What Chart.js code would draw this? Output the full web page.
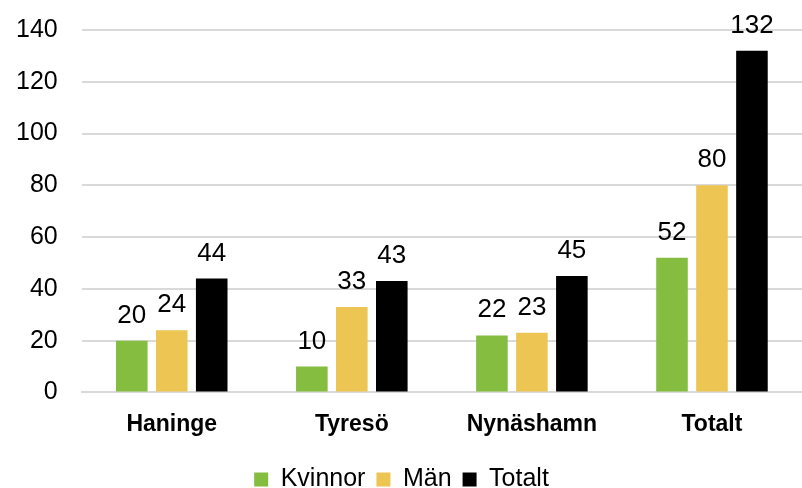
<!DOCTYPE html>
<html>
<head>
<meta charset="utf-8">
<script src="https://cdn.jsdelivr.net/npm/chart.js@4"></script>
<style>
  html, body { margin: 0; padding: 0; background: #fff; }
  #wrap { width: 802px; height: 488px; }
</style>
</head>
<body>
<div id="wrap"><canvas id="barChart"></canvas></div>
<script>
const categories = ['Haninge', 'Tyresö', 'Nynäshamn', 'Totalt'];
const kvinnor = [20, 10, 22, 52];
const man = [24, 33, 23, 80];
const totalt = [44, 43, 45, 132];

const FONT = '"Liberation Sans", Arial, sans-serif';

// Draw value labels above each bar
const valueLabels = {
    id: 'valueLabels',
    afterDatasetsDraw(chart) {
        const ctx = chart.ctx;
        ctx.save();
        ctx.font = '26px ' + FONT;
        ctx.fillStyle = '#000';
        ctx.textAlign = 'center';
        ctx.textBaseline = 'alphabetic';
        chart.data.datasets.forEach((ds, i) => {
            chart.getDatasetMeta(i).data.forEach((bar, j) => {
                ctx.fillText(ds.data[j], bar.x, bar.y - 18);
            });
        });
        ctx.restore();
    }
};

document.addEventListener('DOMContentLoaded', () => {
    const ctx = document.getElementById('barChart').getContext('2d');
    new Chart(ctx, {
        type: 'bar',
        data: {
            labels: categories,
            datasets: [
                { label: 'Kvinnor', data: kvinnor, backgroundColor: '#84BD3F' },
                { label: 'Män', data: man, backgroundColor: '#EDC553' },
                { label: 'Totalt', data: totalt, backgroundColor: '#000000' }
            ]
        },
        options: {
            responsive: true,
            maintainAspectRatio: false,
            animation: false,
            categoryPercentage: 0.666,
            barPercentage: 0.79,
            layout: { padding: { left: -8, right: -9, top: 30, bottom: -14 } },
            plugins: {
                tooltip: { enabled: false },
                legend: {
                    position: 'bottom',
                    labels: {
                        boxWidth: 14,
                        boxHeight: 14,
                        padding: 11,
                        color: '#000',
                        font: { size: 25, family: FONT }
                    }
                }
            },
            scales: {
                x: {
                    grid: { display: false, drawTicks: false },
                    border: { color: '#d9d9d9', width: 2 },
                    ticks: {
                        color: '#000',
                        padding: 18,
                        font: { size: 23, weight: 'bold', family: FONT }
                    }
                },
                y: {
                    min: 0,
                    max: 140,
                    grid: { color: '#d9d9d9', lineWidth: 2, drawTicks: false },
                    border: { display: false },
                    // tick padding otherwise adds extra space above the top gridline
                    afterFit: (axis) => { axis.paddingTop = 0; axis.paddingBottom = 0; },
                    ticks: {
                        stepSize: 20,
                        color: '#000',
                        padding: 24,
                        font: { size: 25, family: FONT }
                    }
                }
            }
        },
        plugins: [valueLabels]
    });
});
</script>
</body>
</html>
